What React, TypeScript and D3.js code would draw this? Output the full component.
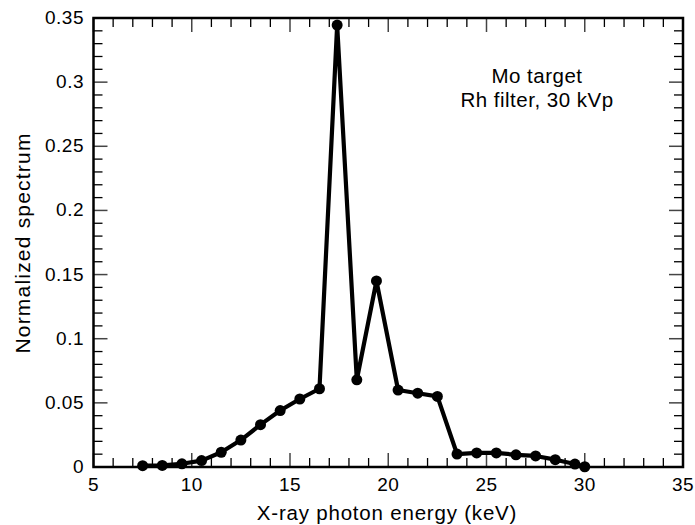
import React from "react";
import * as d3 from "d3";

const energies = [7.5, 8.5, 9.5, 10.5, 11.5, 12.5, 13.5, 14.5, 15.5, 16.5, 17.4, 18.4, 19.4, 20.5, 21.5, 22.5, 23.5, 24.5, 25.5, 26.5, 27.5, 28.5, 29.5, 30];
const spectrum = [0.001, 0.0012, 0.0025, 0.005, 0.0115, 0.021, 0.033, 0.044, 0.053, 0.061, 0.3445, 0.068, 0.145, 0.06, 0.0575, 0.055, 0.0101, 0.011, 0.011, 0.0095, 0.0086, 0.0057, 0.0023, 0.0002];
const xTicks = [5, 10, 15, 20, 25, 30, 35];
const yTicks = [0, 0.05, 0.1, 0.15, 0.2, 0.25, 0.3, 0.35];
const yTickLabels = ["0", "0.05", "0.1", "0.15", "0.2", "0.25", "0.3", "0.35"];

export default function App() {
  const W = 695, H = 525;
  const L = 93.5, R = 683, T = 18, B = 467;
  const x = d3.scaleLinear().domain([5, 35]).range([L, R]);
  const y = d3.scaleLinear().domain([0, 0.35]).range([B, T]);
  const data = energies.map((e, i) => [e, spectrum[i]] as [number, number]);
  const line = d3.line<[number, number]>().x(d => x(d[0])).y(d => y(d[1]));
  const xMinor = d3.range(6, 35, 1).filter(v => v % 5 !== 0);
  const yMinor = d3.range(1, 35, 1).filter(v => v % 5 !== 0).map(v => v / 100);
  const font = "'Liberation Sans', Arial, Helvetica, sans-serif";
  const minorLen = 9, majorLen = 14;
  return (
    <svg width={W} height={H} style={{ position: "absolute", left: 0, top: 0 }}>
      <rect x={0} y={0} width={W} height={H} fill="#fff" />
      {xMinor.map(v => (
        <g key={"xm" + v}>
          <line x1={x(v)} x2={x(v)} y1={B} y2={B - minorLen} stroke="#000" strokeWidth={1.3} />
          <line x1={x(v)} x2={x(v)} y1={T} y2={T + minorLen} stroke="#000" strokeWidth={1.3} />
        </g>
      ))}
      {xTicks.map(v => (
        <g key={"xM" + v}>
          <line x1={x(v)} x2={x(v)} y1={B} y2={B - majorLen} stroke="#444" strokeWidth={1.5} />
          <line x1={x(v)} x2={x(v)} y1={T} y2={T + majorLen} stroke="#444" strokeWidth={1.5} />
          <text x={x(v)} y={491} textAnchor="middle" fontFamily={font} fontSize={19} letterSpacing={0.5} fill="#000">{v}</text>
        </g>
      ))}
      {yMinor.map(v => (
        <g key={"ym" + v}>
          <line x1={L} x2={L + minorLen} y1={y(v)} y2={y(v)} stroke="#000" strokeWidth={1.3} />
          <line x1={R} x2={R - minorLen} y1={y(v)} y2={y(v)} stroke="#000" strokeWidth={1.3} />
        </g>
      ))}
      {yTicks.map((v, i) => (
        <g key={"yM" + v}>
          <line x1={L} x2={L + majorLen} y1={y(v)} y2={y(v)} stroke="#444" strokeWidth={1.5} />
          <line x1={R} x2={R - majorLen} y1={y(v)} y2={y(v)} stroke="#444" strokeWidth={1.5} />
          <text x={84} y={y(v) + 6} textAnchor="end" fontFamily={font} fontSize={19} letterSpacing={0.5} fill="#000">{yTickLabels[i]}</text>
        </g>
      ))}
      <rect x={L} y={T} width={R - L} height={B - T} fill="none" stroke="#000" strokeWidth={2.5} />
      <path d={line(data) || ""} fill="none" stroke="#000" strokeWidth={4.2} strokeLinejoin="round" />
      {data.map((d, i) => (
        <circle key={i} cx={x(d[0])} cy={y(d[1])} r={5.5} fill="#000" />
      ))}
      <text x={537} y={83} textAnchor="middle" fontFamily={font} fontSize={20.5} letterSpacing={0.5} fill="#000">Mo target</text>
      <text x={537} y={107} textAnchor="middle" fontFamily={font} fontSize={20.5} letterSpacing={0.5} fill="#000">Rh filter, 30 kVp</text>
      <text x={387} y={520} textAnchor="middle" fontFamily={font} fontSize={20.5} letterSpacing={0.8} fill="#000">X-ray photon energy (keV)</text>
      <text transform={`translate(30, 243) rotate(-90)`} textAnchor="middle" fontFamily={font} fontSize={21} letterSpacing={1.2} fill="#000">Normalized spectrum</text>
    </svg>
  );
}
